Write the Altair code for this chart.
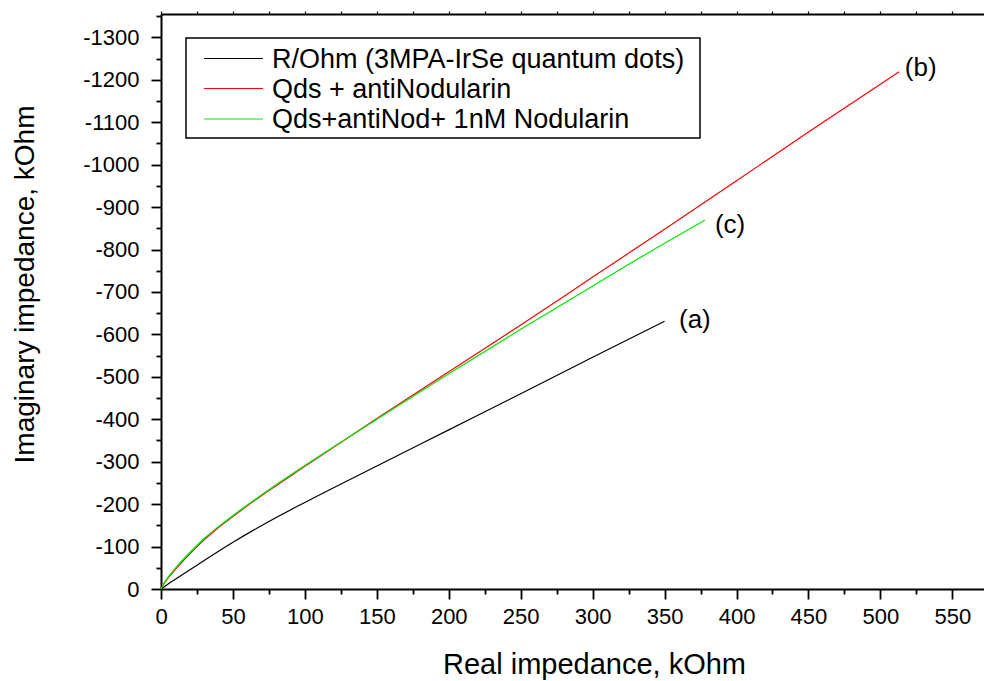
import altair as alt
import pandas as pd

FONT = "Liberation Sans"

series_names = ["R/Ohm (3MPA-IrSe quantum dots)", "Qds + antiNodularin", "Qds+antiNod+ 1nM Nodularin"]
series_colors = ["#000000", "#ff0000", "#00e800"]

real_a = [0, 5, 10, 25, 50, 75, 100, 150, 200, 250, 300, 350]
imag_a = [0, -12, -23, -56, -110, -159, -204, -290, -375, -460, -546, -631]

real_b = [0, 2, 5, 10, 20, 30, 40, 50, 75, 100, 150, 200, 250, 300, 350, 400, 450, 513]
imag_b = [0, -12, -26, -46, -83, -116, -145, -171, -232, -289, -402, -512, -622, -735, -848, -962, -1077, -1219]

real_c = [0, 2, 5, 10, 20, 30, 40, 50, 75, 100, 150, 200, 250, 300, 350, 378]
imag_c = [0, -13, -28, -49, -86, -119, -147, -173, -234, -291, -400, -507, -612, -714, -815, -869]

curve_labels = ["(a)", "(b)", "(c)"]
label_real = [360, 517, 385]
label_imag = [-633, -1228, -857]

x_major = [0, 50, 100, 150, 200, 250, 300, 350, 400, 450, 500, 550]
x_minor = [25, 75, 125, 175, 225, 275, 325, 375, 425, 475, 525]
x_top = [0, 25, 50, 75, 100, 125, 150, 175, 200, 225, 250, 275, 300, 325, 350, 375, 400, 425, 450, 475, 500, 525, 550]
y_major = [0, -100, -200, -300, -400, -500, -600, -700, -800, -900, -1000, -1100, -1200, -1300]
y_minor = [-50, -150, -250, -350, -450, -550, -650, -750, -850, -950, -1050, -1150, -1250, -1350]

XMAX = 572
YMIN = -1355
W, H = 823, 575

rows = []
for name, xs, ys in zip(series_names, [real_a, real_b, real_c], [imag_a, imag_b, imag_c]):
    for i, (xv, yv) in enumerate(zip(xs, ys)):
        rows.append({"series": name, "real": xv, "imag": yv, "order": i})
df = pd.DataFrame(rows)
lab_df = pd.DataFrame({"text": curve_labels, "real": label_real, "imag": label_imag})

xscale = alt.Scale(domain=[0, XMAX], nice=False, zero=False)
yscale = alt.Scale(domain=[0, YMIN], nice=False, zero=False)

ylabel_expr = "datum.value == 0 ? '0' : '-' + format(abs(datum.value), 'd')"

lines = alt.Chart(df).mark_line(strokeWidth=1.2, interpolate="monotone").encode(
    x=alt.X("real:Q", scale=xscale, axis=alt.Axis(
        orient="bottom", values=x_major, title="Real impedance, kOhm", grid=False,
        domainColor="black", domainWidth=2, tickColor="black", tickWidth=1.8, tickSize=10,
        labelFont=FONT, labelFontSize=22, labelColor="black", labelPadding=7, labelFlush=False,
        titleFont=FONT, titleFontSize=29, titleFontWeight="normal", titleColor="black",
        titleX=433, titleY=84, titleBaseline="alphabetic", titleAlign="center")),
    y=alt.Y("imag:Q", scale=yscale, axis=alt.Axis(
        orient="left", values=y_major, title="Imaginary impedance, kOhm", grid=False,
        labelExpr=ylabel_expr,
        domainColor="black", domainWidth=2, tickColor="black", tickWidth=1.8, tickSize=10,
        labelFont=FONT, labelFontSize=22, labelColor="black", labelPadding=12, labelFlush=False,
        titleFont=FONT, titleFontSize=28, titleFontWeight="normal", titleColor="black",
        titleX=-128, titleY=270, titleAngle=270, titleBaseline="alphabetic", titleAlign="center")),
    color=alt.Color("series:N", scale=alt.Scale(domain=series_names, range=series_colors),
                    legend=None),
    order="order:Q",
)

minor = alt.Chart(df).mark_line(opacity=0).encode(
    x=alt.X("real:Q", scale=xscale, axis=alt.Axis(
        orient="bottom", values=x_minor, title=None, labels=False, domain=False, grid=False,
        tickColor="black", tickWidth=1.8, tickSize=5)),
    y=alt.Y("imag:Q", scale=yscale, axis=alt.Axis(
        orient="left", values=y_minor, title=None, labels=False, domain=False, grid=False,
        tickColor="black", tickWidth=1.8, tickSize=5)),
    detail="series:N",
)

top = alt.Chart(df).mark_line(opacity=0).encode(
    x=alt.X("real:Q", scale=xscale, axis=alt.Axis(
        orient="top", values=x_top, title=None, labels=False, grid=False,
        domainColor="black", domainWidth=2, tickColor="black", tickWidth=1.2, tickSize=3)),
    y=alt.Y("imag:Q", scale=yscale, axis=None),
    detail="series:N",
)

texts = alt.Chart(lab_df).mark_text(align="left", baseline="middle", font=FONT, fontSize=26,
                                    color="black").encode(
    x=alt.X("real:Q", scale=xscale, axis=None),
    y=alt.Y("imag:Q", scale=yscale, axis=None),
    text="text:N",
)

# legend box (drawn by hand, positions in plot pixels)
one = pd.DataFrame({"k": [0]})
legend_layers = [
    alt.Chart(one).mark_rect(fill="white", stroke="black", strokeWidth=1.5).encode(
        x=alt.value(25), x2=alt.value(539), y=alt.value(24), y2=alt.value(124))
]
row_y = [44.5, 74.5, 105]
for name, col, yy in zip(series_names, series_colors, row_y):
    legend_layers.append(
        alt.Chart(one).mark_rule(color=col, strokeWidth=1.2).encode(
            x=alt.value(43), x2=alt.value(102), y=alt.value(yy)))
    legend_layers.append(
        alt.Chart(one).mark_text(align="left", baseline="middle", font=FONT, fontSize=27,
                                 color="black", text=name).encode(
            x=alt.value(111), y=alt.value(yy + 1)))

chart = alt.layer(lines, minor, top, texts, *legend_layers).resolve_axis(
    x="independent", y="independent"
).properties(
    width=W, height=H,
    autosize=alt.AutoSizeParams(type="none"),
    padding={"left": 161, "top": 14, "right": 0, "bottom": 92},
    background="white",
).configure_view(stroke="transparent")

chart.save("out.html", embed_options={"renderer": "svg", "actions": False})
